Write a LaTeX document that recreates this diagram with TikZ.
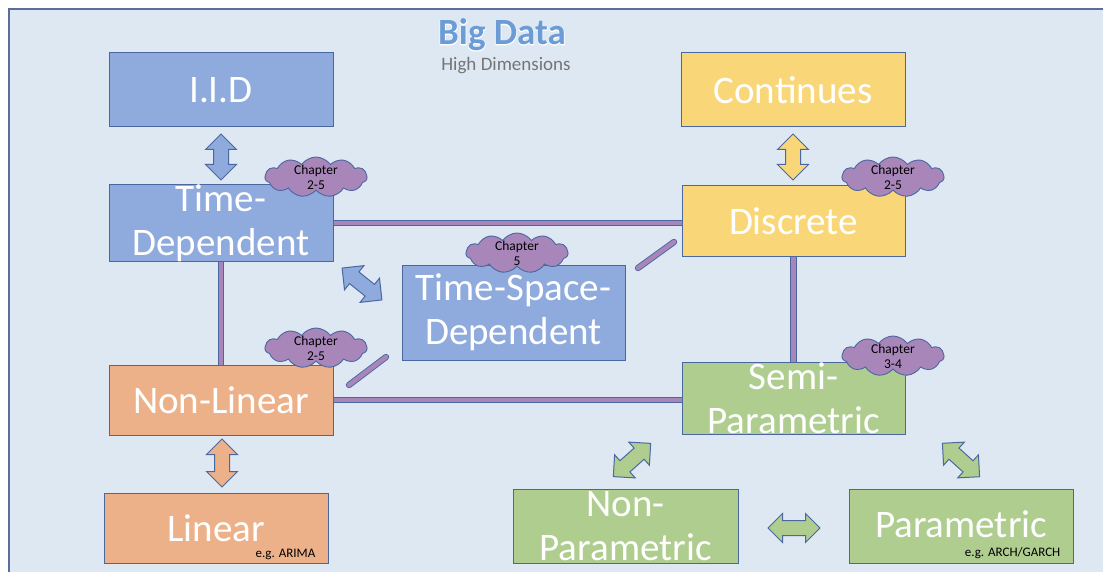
\documentclass[tikz,border=0pt]{standalone}
\usepackage{fontspec}
\setmainfont{Carlito}
\newfontfamily\titleglowfont[BoldFeatures={FakeBold=3}]{Carlito}
\usetikzlibrary{shapes.symbols,shapes.arrows,calc}
\definecolor{bgc}{HTML}{DEE8F3}
\definecolor{bord}{HTML}{4A67A0}
\definecolor{bgbord}{HTML}{5B6E9A}
\definecolor{bluebox}{HTML}{8FAADC}
\definecolor{yelbox}{HTML}{F9D778}
\definecolor{orabox}{HTML}{EDB189}
\definecolor{grebox}{HTML}{AFCD8F}
\definecolor{purp}{HTML}{A886B9}
\definecolor{titleblue}{HTML}{6C9CD5}
\definecolor{subgray}{HTML}{757575}
\tikzset{
 box/.style={draw=bord, line width=1pt, minimum width=224pt, minimum height=74pt, inner sep=0pt, text=white, align=center, font=\fontsize{39}{44}\selectfont},
 link/.style={draw=bord, line width=0.9pt, double=purp, double distance=4.5pt},
 barr/.style={double arrow, draw=bord, line width=1pt, double arrow head extend=8pt, inner xsep=0pt, inner ysep=7pt, double arrow tip angle=90},
 chcloud/.style={cloud, cloud puffs=11, cloud puff arc=110, cloud ignores aspect, draw=bord, line width=0.9pt, fill=purp, minimum width=102pt, minimum height=40pt, inner sep=0pt},
 chtext/.style={font=\fontsize{13.5}{15}\selectfont, align=center, text=black, inner sep=0pt},
 note/.style={font=\fontsize{13}{15}\selectfont, text=black, inner sep=0pt}
}
\begin{document}
\begin{tikzpicture}[x=1pt,y=-1pt]
\useasboundingbox (0,0) rectangle (1103,572);
\clip (0,0) rectangle (1103,572);
\fill[white] (0,0) rectangle (1103,572);
\draw[draw=bgbord, fill=bgc, line width=1.5pt] (9,9) rectangle (1130,600);

% title
\node[font=\titleglowfont\bfseries\fontsize{37}{42}\selectfont, text=white, inner sep=0pt] (titleglow) at (502,35) {Big Data};
\node[font=\bfseries\fontsize{37}{42}\selectfont, text=titleblue, inner sep=0pt] (title) at (502,35) {Big Data};
\node[font=\fontsize{19}{22}\selectfont, text=subgray, inner sep=0pt] (sub) at (506,66) {High Dimensions};

% connector end points
\coordinate (d1a) at (349,385);
\coordinate (d1b) at (386,357);
\coordinate (d2a) at (638,268);
\coordinate (d2b) at (674,242);

% boxes
\node[box, fill=bluebox] (iid) at (221,90) {I.I.D};
\node[box, fill=yelbox] (con) at (793,90) {Continues};
\node[box, fill=bluebox] (td) at (221,223) {Time-\\Dependent};
\node[box, fill=yelbox, minimum height=70pt, minimum width=223pt] (ds) at (793.5,221) {Discrete};
\node[box, fill=bluebox, minimum height=95pt, minimum width=223pt] (tsd) at (513.5,312.5) {Time-Space-\\Dependent};
\node[box, fill=orabox, minimum height=70pt] (nl) at (221,400) {Non-Linear};
\node[box, fill=grebox, minimum height=71pt, minimum width=223pt] (sp) at (793.5,398.5) {Semi-\\Parametric};
\node[box, fill=orabox, minimum height=70pt] (lin) at (216,528) {Linear};
\node[box, fill=grebox, minimum width=225pt] (np) at (625.5,526) {Non-\\Parametric};
\node[box, fill=grebox] (par) at (961,526) {\raisebox{3pt}{Parametric}};

\draw[link] (td.east) -- (td.east -| ds.west);
\draw[link] (td.south) -- (nl.north);
\draw[link] (nl.east) -- (nl.east -| sp.west);
\draw[link] (ds.south) -- (ds.south |- sp.north);
\draw[link, line cap=round] (d1a) -- (d1b);
\draw[link, line cap=round] (d2a) -- (d2b);

\node[note, anchor=base east] (n1) at ($(lin.south east)+(-13,-6)$) {e.g. ARIMA};
\node[note, anchor=base east] (n2) at ($(par.south east)+(-13,-7)$) {e.g. ARCH/GARCH};

% block arrows
\node[barr, fill=bluebox, minimum height=46pt, rotate=90] (a1) at (221,157) {};
\node[barr, fill=yelbox, minimum height=46pt, rotate=90] (a2) at (793,157) {};
\node[barr, fill=orabox, minimum height=48pt, rotate=90] (a3) at (222,463) {};
\node[barr, fill=bluebox, minimum height=51pt, rotate=-38.7] (a4) at (362,284) {};
\node[barr, fill=grebox, minimum height=50pt, rotate=41.7] (a5) at (632,460) {};
\node[barr, fill=grebox, minimum height=50pt, rotate=-42] (a6) at (961,460) {};
\node[barr, fill=grebox, minimum height=52pt, double arrow head extend=7pt] (a7) at (794,528) {};

% clouds
\node[chcloud] (c1) at (316,177) {};
\node[chtext] (c1t) at (c1) {Chapter\\2-5};
\node[chcloud] (c2) at (893,177) {};
\node[chtext] (c2t) at (c2) {Chapter\\2-5};
\node[chcloud] (c3) at (517,253) {};
\node[chtext] (c3t) at (c3) {Chapter\\5};
\node[chcloud] (c4) at (316,348) {};
\node[chtext] (c4t) at (c4) {Chapter\\2-5};
\node[chcloud] (c5) at (893,356) {};
\node[chtext] (c5t) at (c5) {Chapter\\3-4};
\end{tikzpicture}
\end{document}
